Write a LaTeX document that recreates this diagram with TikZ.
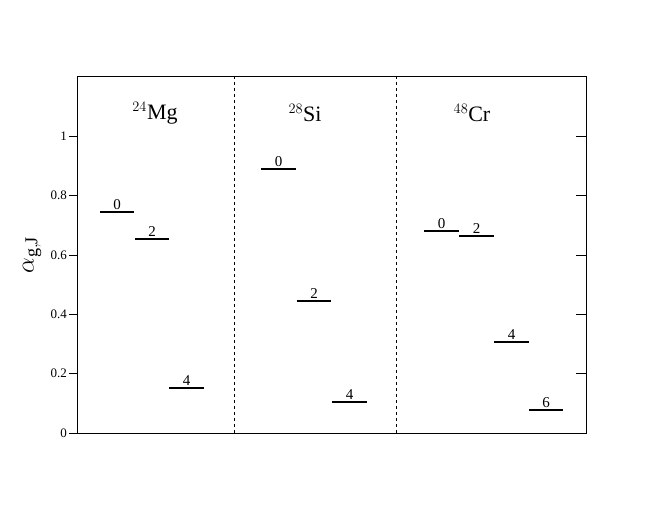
\documentclass[tikz,border=0pt]{standalone}
\usepackage{fontspec}
\setmainfont{Liberation Serif}
\begin{document}
\begin{tikzpicture}[x=1pt,y=-1pt,
  lev/.style={line width=2pt},
  lab/.style={font=\fontsize{15}{15}\selectfont, anchor=south, inner sep=1pt},
  nuc/.style={font=\fontsize{22}{22}\selectfont},
  tl/.style={font=\fontsize{13}{13}\selectfont, anchor=east, inner sep=2pt}]
\useasboundingbox (0,0) rectangle (660,510);
\draw[line width=0.8pt] (77,76) rectangle (586,433);
\draw[dashed] (234,76) -- (234,433);
\draw[dashed] (396,76) -- (396,433);
\foreach \v/\t in {0/0,0.2/0.2,0.4/0.4,0.6/0.6,0.8/0.8,1/1}{
  \pgfmathsetmacro{\yy}{433-297*\v}
  \draw (69,\yy) -- (77,\yy);
  \draw (576,\yy) -- (586,\yy);
  \node[tl] (t\t) at (69,\yy) {\t};
}
\node[font=\fontsize{26}{26}\selectfont, rotate=90] (ylab) at (32,255) {$\alpha_{\mathrm{g,J}}$};
\node[nuc] (mg) at (155,113) {$^{24}$Mg};
\node[nuc] (si) at (305,113) {$^{28}$Si};
\node[nuc] (cr) at (472,113) {$^{48}$Cr};
\foreach \n/\xa/\xb/\y/\j in {a/100/134/212/0, b/135/169/239/2, c/169/204/388/4,
  d/261/296/169/0, e/297/331/301/2, f/332/367/402/4,
  g/424/459/231/0, h/459/494/236/2, i/494/529/342/4, k/529/563/410/6}{
  \draw[lev] (\xa,\y) -- (\xb,\y);
  \node[lab] (l\n) at ({(\xa+\xb)/2},\y-1) {\j};
}
\end{tikzpicture}
\end{document}
